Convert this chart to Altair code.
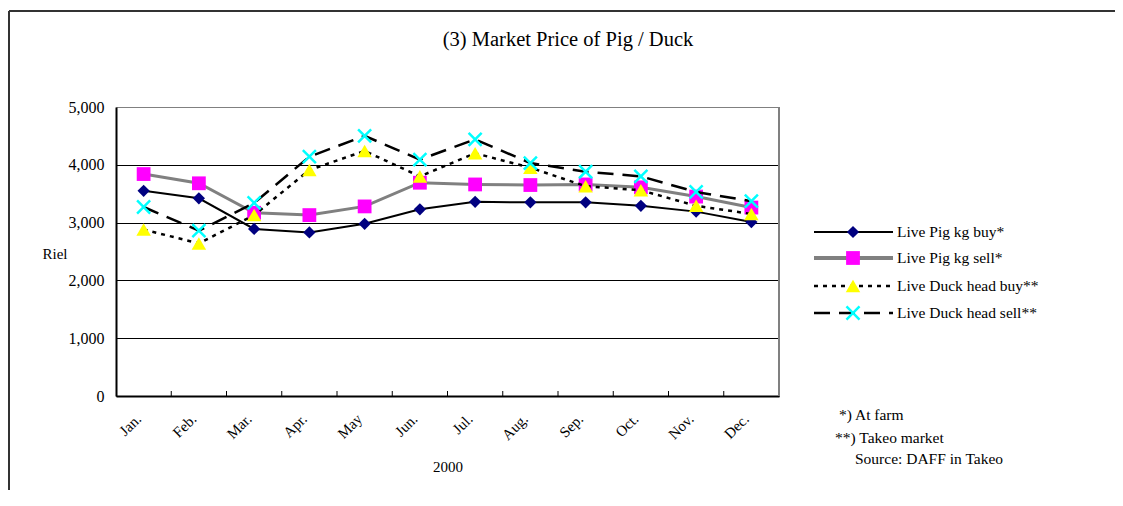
import altair as alt
import pandas as pd

months = ["Jan.", "Feb.", "Mar.", "Apr.", "May", "Jun.", "Jul.", "Aug.", "Sep.", "Oct.", "Nov.", "Dec."]
series_names = ["Live Pig kg buy*", "Live Pig kg sell*", "Live Duck head buy**", "Live Duck head sell**"]
pig_buy = [3550, 3420, 2890, 2830, 2980, 3230, 3360, 3350, 3350, 3290, 3190, 3010]
pig_sell = [3840, 3680, 3170, 3130, 3280, 3690, 3660, 3650, 3660, 3610, 3450, 3260]
duck_buy = [2880, 2640, 3130, 3910, 4240, 3800, 4200, 3950, 3630, 3560, 3290, 3150]
duck_sell = [3270, 2860, 3340, 4140, 4500, 4090, 4440, 4030, 3880, 3800, 3530, 3370]
y_ticks = [0, 1000, 2000, 3000, 4000, 5000]
chart_title = "(3) Market Price of Pig / Duck"
x_title = "2000"
y_title = "Riel"
notes = ["*) At farm", "**) Takeo market", "Source: DAFF in Takeo"]

rows = []
for name, vals in zip(series_names, [pig_buy, pig_sell, duck_buy, duck_sell]):
    for m, v in zip(months, vals):
        rows.append({"month": m, "series": name, "value": v})
df = pd.DataFrame(rows)
mdf = pd.DataFrame({"month": months[1:]})
one = pd.DataFrame({"k": [0]})

W, H = 663, 289
FONT = "Liberation Serif"
XPATH = "M-1,-1L1,1M-1,1L1,-1"

styles = [
    dict(stroke="#000000", width=2, dash=None, shape="diamond", color="#000080", size=150, filled=True, lw=2),
    dict(stroke="#808080", width=3, dash=None, shape="square", color="#FF00FF", size=190, filled=True, lw=4),
    dict(stroke="#000000", width=2.5, dash=[4, 5], shape="triangle-up", color="#FFFF00", size=210, filled=True, lw=2.5),
    dict(stroke="#000000", width=2.5, dash=[16, 9], shape=XPATH, color="#00FFFF", size=170, filled=False, lw=2.5),
]

xscale = alt.Scale(type="band", domain=months, paddingInner=0, paddingOuter=0)
yscale = alt.Scale(domain=[0, 5000], nice=False)

x_axis = alt.Axis(
    ticks=False, domainColor="#000000", domainWidth=2, grid=False,
    labelAngle=-45, labelAlign="right", labelBaseline="middle",
    labelPadding=20, labelOffset=-5, labelFont=FONT, labelFontSize=15, labelColor="#000000",
    title=x_title, titleFont=FONT, titleFontSize=15, titleFontWeight="normal", titleColor="#000000",
    titleY=70, titleBaseline="middle",
)
y_axis = alt.Axis(
    values=y_ticks, format=",d", ticks=False, domainColor="#000000", domainWidth=2,
    grid=True, gridWidth=1,
    gridColor={"condition": {"test": "datum.value === 5000", "value": "#808080"}, "value": "#000000"},
    labelPadding=12, labelFont=FONT, labelFontSize=16, labelColor="#000000",
    title=y_title, titleFont=FONT, titleFontSize=15, titleFontWeight="normal", titleColor="#000000",
    titleAngle=0, titleX=-74, titleY=146, titleAlign="left", titleBaseline="middle",
)

def xenc():
    return alt.X("month:N", sort=months, bandPosition=0.5, scale=xscale, axis=x_axis)

def yenc():
    return alt.Y("value:Q", scale=yscale, axis=y_axis)

layers = []

# outer frame: left and top edges
layers.append(alt.Chart(one).mark_rule(color="#333333", strokeWidth=2).encode(
    x=alt.value(-107), y=alt.value(-96), y2=alt.value(H + 94)))
layers.append(alt.Chart(one).mark_rule(color="#333333", strokeWidth=2).encode(
    x=alt.value(-107), x2=alt.value(W + 336), y=alt.value(-96)))

# right edge of the plot area
layers.append(alt.Chart(one).mark_rule(color="#808080", strokeWidth=2).encode(
    x=alt.value(W), y=alt.value(0), y2=alt.value(H)))

# inward ticks at category boundaries
layers.append(alt.Chart(mdf).mark_rule(color="#000000", strokeWidth=1).encode(
    x=alt.X("month:N", sort=months, bandPosition=0, scale=xscale, axis=x_axis),
    y=alt.value(H - 5), y2=alt.value(H)))

for name, st in zip(series_names, styles):
    base = alt.Chart(df).transform_filter(alt.datum.series == name)
    lkw = dict(color=st["stroke"], strokeWidth=st["width"])
    if st["dash"]:
        lkw["strokeDash"] = st["dash"]
    layers.append(base.mark_line(**lkw).encode(x=xenc(), y=yenc()))
    if st["filled"]:
        pm = base.mark_point(shape=st["shape"], filled=True, color=st["color"], size=st["size"], opacity=1)
    else:
        pm = base.mark_point(shape=st["shape"], filled=False, color=st["color"], size=st["size"],
                             strokeWidth=2.5, opacity=1)
    layers.append(pm.encode(x=xenc(), y=yenc()))

# legend
leg_y = [125, 151, 179, 206]
for name, st, ly in zip(series_names, styles, leg_y):
    rkw = dict(color=st["stroke"], strokeWidth=st["lw"])
    if st["dash"]:
        rkw["strokeDash"] = st["dash"]
    layers.append(alt.Chart(one).mark_rule(**rkw).encode(
        x=alt.value(698), x2=alt.value(777), y=alt.value(ly)))
    if st["filled"]:
        pm = alt.Chart(one).mark_point(shape=st["shape"], filled=True, color=st["color"], size=st["size"], opacity=1)
    else:
        pm = alt.Chart(one).mark_point(shape=st["shape"], filled=False, color=st["color"], size=st["size"],
                                       strokeWidth=2.5, opacity=1)
    layers.append(pm.encode(x=alt.value(737), y=alt.value(ly)))
    layers.append(alt.Chart(one).mark_text(text=name, font=FONT, fontSize=15.5, align="left",
                                           baseline="middle", color="#000000").encode(
        x=alt.value(781), y=alt.value(ly)))

# notes
note_pos = [(723, 308), (719, 331), (739, 352)]
for txt, (nx, ny) in zip(notes, note_pos):
    layers.append(alt.Chart(one).mark_text(text=txt, font=FONT, fontSize=15.5, align="left",
                                           baseline="middle", color="#000000").encode(
        x=alt.value(nx), y=alt.value(ny)))

# title
layers.append(alt.Chart(one).mark_text(text=chart_title, font=FONT, fontSize=20.5, align="center",
                                       baseline="middle", color="#000000").encode(
    x=alt.value(452), y=alt.value(-67)))

chart = alt.layer(*layers).properties(
    width=W, height=H,
    autosize=alt.AutoSizeParams(type="none"),
    padding={"left": 108, "top": 99, "right": 336, "bottom": 95},
).configure_view(strokeWidth=0, stroke="transparent").configure(background="white")

chart.save("out.html", embed_options={"renderer": "svg", "actions": False})
